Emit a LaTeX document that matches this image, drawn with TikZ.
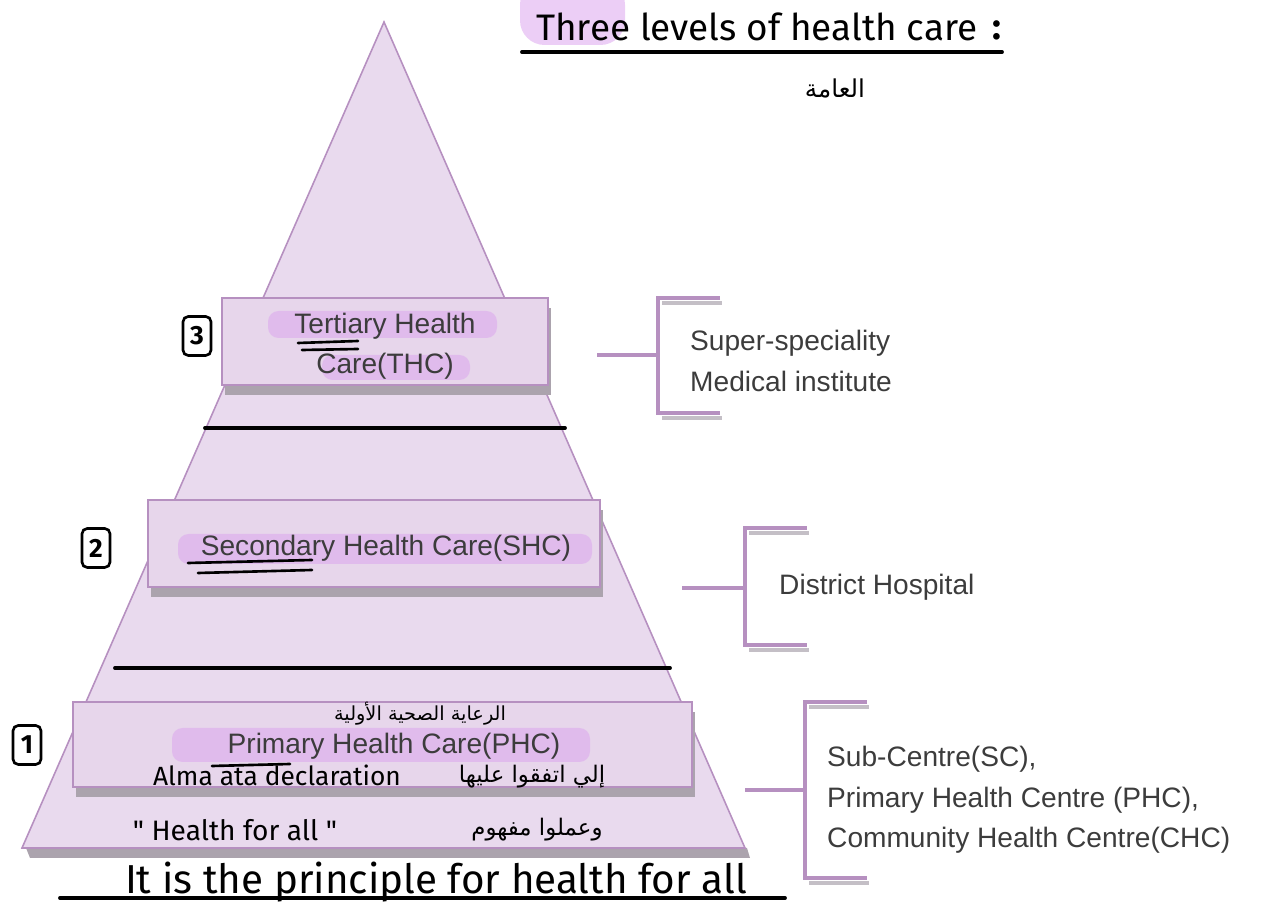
\documentclass[tikz,border=0pt]{standalone}
\usepackage{fontspec}
\setmainfont{Liberation Sans}
\newfontfamily\handfont{Fira Sans}
\newfontfamily\arabicfont[Script=Arabic]{DejaVu Sans}
\TeXXeTstate=1
\usetikzlibrary{shadows}
\definecolor{pyrfill}{HTML}{E9DAEE}
\definecolor{pyredge}{HTML}{B690C0}
\definecolor{boxfill}{HTML}{E7D6EB}
\definecolor{marker}{HTML}{DCA6EE}
\definecolor{shadowgray}{HTML}{ABA3AD}
\definecolor{printgray}{HTML}{3C3C3C}
\tikzset{
  level/.style={draw=pyredge, fill=boxfill, line width=0.9pt, drop shadow={shadow xshift=1.5pt, shadow yshift=-5.5pt, fill=shadowgray, opacity=1}},
  bracket/.style={draw=pyredge, line width=2.2pt},
  printed/.style={font=\fontsize{16}{23}\selectfont, text=printgray, align=center},
  note/.style={font=\handfont\fontsize{15}{18}\selectfont, text=black},
  arnote/.style={font=\arabicfont\fontsize{13}{16}\selectfont, text=black},
  numbox/.style={draw=black, line width=1.5pt, rounded corners=3pt, font=\handfont\bfseries\fontsize{15}{15}\selectfont, inner sep=0pt, minimum width=0.56cm, minimum height=0.78cm},
  hilite/.style={fill=marker, opacity=0.55, rounded corners=6pt},
  ink/.style={draw=black, line width=2.2pt, line cap=round}
}
\begin{document}
\begin{tikzpicture}[x=0.02cm,y=-0.02cm]
	\useasboundingbox (0,0) rectangle (1265,911);
	\coordinate (apex) at (384,22);
	\coordinate (baseL) at (22,848);
	\coordinate (baseR) at (745,848);
	\fill[shadowgray] (26,848) -- (747,848) -- (750,858) -- (30,858) -- cycle;
	\filldraw[fill=pyrfill, draw=pyredge, line width=0.9pt] (apex) -- (baseR) -- (baseL) -- cycle;
	\draw[ink] (205,428) -- (565,428);
	\draw[ink] (115,668) -- (670,668);
	\node[level, minimum width=6.52cm, minimum height=1.74cm] (THC) at (385,341.5) {};
	\node[level, minimum width=9.04cm, minimum height=1.74cm] (SHC) at (374,543.5) {};
	\node[level, minimum width=12.38cm, minimum height=1.70cm] (PHC) at (382.5,744.5) {};
	\fill[hilite] (268,311) rectangle (497,338);
	\fill[hilite] (322,355) rectangle (470,380);
	\fill[hilite] (178,534) rectangle (592,564);
	\fill[hilite] (172,728) rectangle (590,762);
	\fill[hilite, rounded corners=14pt] (520,-20) rectangle (625,45);
	\node[printed] (THCt) at (385,346) {Tertiary Health\\Care(THC)};
	\node[printed] (SHCt) at (386,548) {Secondary Health Care(SHC)};
	\node[printed] (PHCt) at (394,746) {Primary Health Care(PHC)};
	\draw[ink, line width=1.5pt] (298,343) -- (358,341);
	\draw[ink, line width=1.5pt] (302,350) -- (358,349);
	\draw[ink, line width=1.5pt] (188,563) -- (312,560);
	\draw[ink, line width=1.5pt] (198,573) -- (312,570);
	\draw[ink, line width=1.5pt] (212,766) -- (290,764);
	\node[numbox] (N3) at (197,336) {3};
	\node[numbox] (N2) at (96,548) {2};
	\node[numbox] (N1) at (27,745) {1};
	\coordinate (B3s) at (597,355);
	\coordinate (B3m) at (658,355);
	\coordinate (B3t) at (658,298);
	\coordinate (B3b) at (658,413);
	\coordinate (B2s) at (682,588);
	\coordinate (B2m) at (745,588);
	\coordinate (B2t) at (745,528);
	\coordinate (B2b) at (745,645);
	\coordinate (B1s) at (745,790);
	\coordinate (B1m) at (805,790);
	\coordinate (B1t) at (805,702);
	\coordinate (B1b) at (805,878);
	\foreach \b in {B3,B2,B1}{
		\draw[draw=shadowgray!70, line width=2pt] ([shift={(4,5)}]\b t) -- ++(60,0);
		\draw[draw=shadowgray!70, line width=2pt] ([shift={(4,5)}]\b b) -- ++(60,0);
		\draw[bracket] (\b s) -- (\b m);
		\draw[bracket] ([xshift=62*0.02cm]\b t) -- (\b t) -- (\b b) -- ++(62,0);
	}
	\node[printed, align=left, anchor=west] (R3) at (684,361) {Super-speciality\\Medical institute};
	\node[printed, align=left, anchor=west] (R2) at (773,587) {District Hospital};
	\node[printed, align=left, anchor=west] (R1) at (821,800) {Sub-Centre(SC),\\Primary Health Centre (PHC),\\Community Health Centre(CHC)};
	\node[note, font=\handfont\fontsize{21}{24}\selectfont, anchor=west] (title) at (530,27) {Three levels of health care};
	\node[note, font=\handfont\bfseries\fontsize{21}{24}\selectfont] (colon) at (997,30) {:};
	\draw[ink] (522,52) -- (1002,52);
	\node[arnote, font=\arabicfont\fontsize{14}{16}\selectfont] (A0) at (835,88) {\beginR العامة\endR};
	\node[arnote, font=\arabicfont\fontsize{11}{13}\selectfont] (A1) at (420,714) {\beginR الرعاية الصحية الأولية\endR};
	\node[note] (alma) at (277,775) {Alma ata declaration};
	\node[arnote] (A2) at (532,777) {\beginR إلي اتفقوا عليها\endR};
	\node[note, font=\handfont\fontsize{16}{18}\selectfont] (hfa) at (235,830) {"\ Health for all\ "};
	\node[arnote] (A3) at (537,830) {\beginR وعملوا مفهوم\endR};
	\node[note, font=\handfont\fontsize{23}{26}\selectfont] (principle) at (436,882) {It is the principle for health for all};
	\draw[ink] (60,898) -- (785,898);
\end{tikzpicture}
\end{document}
